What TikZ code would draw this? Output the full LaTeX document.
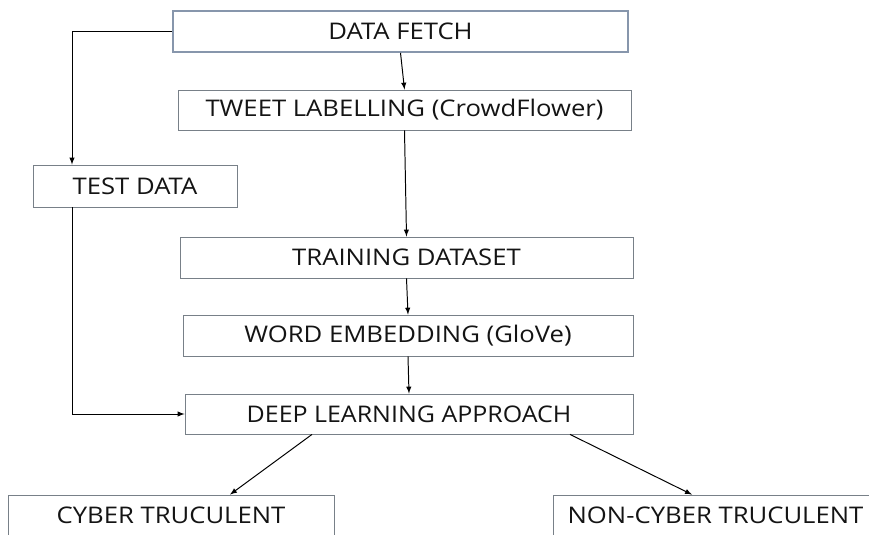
\documentclass[tikz,border=0pt]{standalone}
\usepackage{fontspec}
\setmainfont[FakeStretch=1.12]{Open Sans}
\usepackage{xcolor}
\usetikzlibrary{arrows,shapes,positioning,shadows,calc}
\definecolor{fetchedge}{RGB}{135,150,172}
\definecolor{boxedge}{RGB}{120,128,136}

\begin{document}
\begin{tikzpicture}[
    box/.style={rectangle, draw=boxedge, line width=0.6pt, fill=white, inner sep=0pt, text=black!92, font=\fontsize{16.3}{18}\selectfont},
    arrow/.style={-latex, line width=0.7pt, black}
]
\useasboundingbox (0,0) rectangle (21.725,-13.375);

% Draw boxes
\node[box, draw=fetchedge, line width=1.2pt, drop shadow={opacity=0.25, shadow xshift=0.6pt, shadow yshift=-0.6pt}, minimum width=11.375cm, minimum height=1.025cm] (fetch) at (10.0125,-0.7875) {DATA FETCH};

\node[box, minimum width=11.325cm, minimum height=1cm] (label) at (10.1125,-2.75) {TWEET LABELLING (CrowdFlower)};

\node[box, minimum width=5.1cm, minimum height=1.05cm] (test) at (3.375,-4.65) {TEST DATA};

\node[box, minimum width=11.325cm, minimum height=1.025cm] (train) at (10.1625,-6.4375) {TRAINING DATASET};

\node[box, minimum width=11.25cm, minimum height=1.025cm] (embed) at (10.2,-8.3875) {WORD EMBEDDING (GloVe)};

\node[box, minimum width=11.2cm, minimum height=1cm] (deep) at (10.225,-10.35) {\addfontfeature{FakeStretch=1.09}DEEP LEARNING APPROACH};

\node[box, minimum width=8.15cm, minimum height=1cm] (cyber) at (4.275,-12.875) {CYBER TRUCULENT};

\node[box, minimum width=8.125cm, minimum height=1cm] (noncyber) at (17.8875,-12.875) {NON-CYBER TRUCULENT};

% Draw arrows
\draw[arrow] (fetch.south) -- (label.north);
\draw[arrow] (label.south) -- (train.north);
\draw[arrow] (train.south) -- (embed.north);
\draw[arrow] (embed.south) -- (deep.north);
\draw[arrow] (fetch.west) -| ([xshift=-1.575cm]test.north);
\draw[arrow] ([xshift=-1.575cm]test.south) |- (deep.west);
\draw[arrow] ([xshift=-2.425cm]deep.south) -- ([xshift=1.475cm]cyber.north);
\draw[arrow] ([xshift=4.025cm]deep.south) -- ([xshift=-0.5875cm]noncyber.north);

\end{tikzpicture}
\end{document}
